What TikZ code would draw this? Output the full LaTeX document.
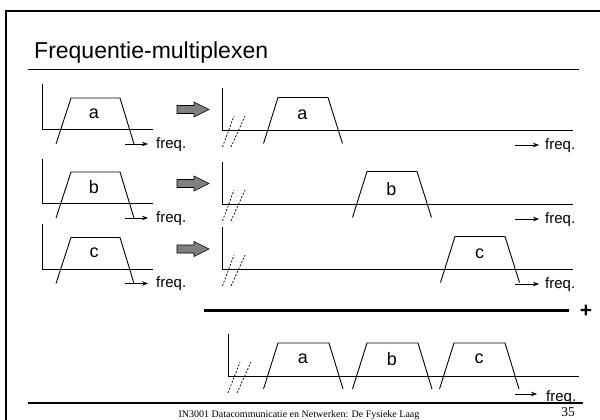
\documentclass[tikz,border=0pt]{standalone}
\usepackage{fontspec}
\setmainfont{Liberation Sans}
\newfontfamily\footfont{Liberation Serif}
\usetikzlibrary{arrows.meta}
\tikzset{
  ln/.style={line width=0.9pt},
  axisln/.style={line width=0.9pt},
  brk/.style={line width=0.7pt, dash pattern=on 2pt off 1.6pt},
  farrow/.style={line width=0.8pt, -{Stealth[length=6pt,width=4.5pt]}},
  garrow/.style={fill=black!50, draw=black, line width=0.6pt},
  lbl/.style={font=\fontsize{18}{20}\selectfont, inner sep=0pt},
  freqlbl/.style={font=\fontsize{15}{16}\selectfont, anchor=west, inner sep=0pt},
}
\begin{document}
\begin{tikzpicture}[x=1pt,y=-1pt]
\useasboundingbox (0,0) rectangle (600,420);
% frame
\draw[line width=2pt] (6,440) -- (6,11) -- (640,11);
% title
\node[anchor=base west, inner sep=0pt, font=\fontsize{23}{26}\selectfont] (title) at (34,59) {Frequentie-multiplexen};
\draw[line width=1.5pt] (28,69.5) -- (579,69.5);
% bottom line and footer
\draw[line width=1.5pt] (28,403) -- (583,403);
\node[inner sep=0pt, font=\footfont\fontsize{10}{12}\selectfont] (foot) at (299,415) {IN3001 Datacommunicatie en Netwerken: De Fysieke Laag};
\node[inner sep=0pt, font=\footfont\fontsize{13.5}{15}\selectfont] (page) at (568,412) {35};
% left graphs
\foreach \ax/\lab in {129.5/a,203.5/b,269/c}{
  \draw[axisln] (42,\ax-45) -- (42,\ax) -- (153,\ax);
  \draw[ln] (56,\ax+14.5) -- (71,\ax-31.5) -- (120,\ax-31.5) -- (134,\ax+14.5);
  \node[lbl] (L\lab) at (94,\ax-16) {\lab};
  \draw[farrow] (125,\ax+14.5) -- (148,\ax+14.5);
  \node[freqlbl] (LF\lab) at (156,\ax+15) {freq.};
  % gray arrow
  \draw[garrow] (177,\ax-24) -- (194,\ax-24) -- (194,\ax-27.5) -- (209,\ax-20) -- (194,\ax-12.5) -- (194,\ax-16) -- (177,\ax-16) -- cycle;
}
% right graphs
\foreach \ax/\lab/\tl in {130/a/278,204/b/367,269/c/455}{
  \draw[axisln] (222,\ax-42) -- (222,\ax) -- (573,\ax);
  \draw[brk] (222.5,\ax+17) -- (234,\ax-14);
  \draw[brk] (231,\ax+17) -- (245,\ax-14);
  \draw[ln] (\tl-14.5,\ax+13.5) -- (\tl,\ax-32.5) -- (\tl+50,\ax-32.5) -- (\tl+64.5,\ax+13.5);
  \node[lbl] (R\lab) at (\tl+24.5,\ax-15) {\lab};
  \draw[farrow] (515,\ax+15) -- (539,\ax+15);
  \node[freqlbl] (RF\lab) at (545,\ax+15.5) {freq.};
}
% sum line
\draw[line width=3pt] (204,310) -- (569,310);
\node[inner sep=0pt, font=\bfseries\fontsize{21}{22}\selectfont] (plus) at (586,311) {+};
% bottom composite
\draw[axisln] (228,334) -- (228,376) -- (579,376);
\draw[brk] (228,393) -- (240,362);
\draw[brk] (237,393) -- (251,362);
\foreach \lab/\tl in {a/278,b/367,c/454}{
  \draw[ln] (\tl-14.5,389) -- (\tl,343) -- (\tl+51,343) -- (\tl+65,389);
  \node[lbl] (B\lab) at (\tl+25,359) {\lab};
}
\draw[farrow] (515,394) -- (537,394);
\node[freqlbl, anchor=base west] (BF) at (546,401) {freq.};
\end{tikzpicture}
\end{document}
